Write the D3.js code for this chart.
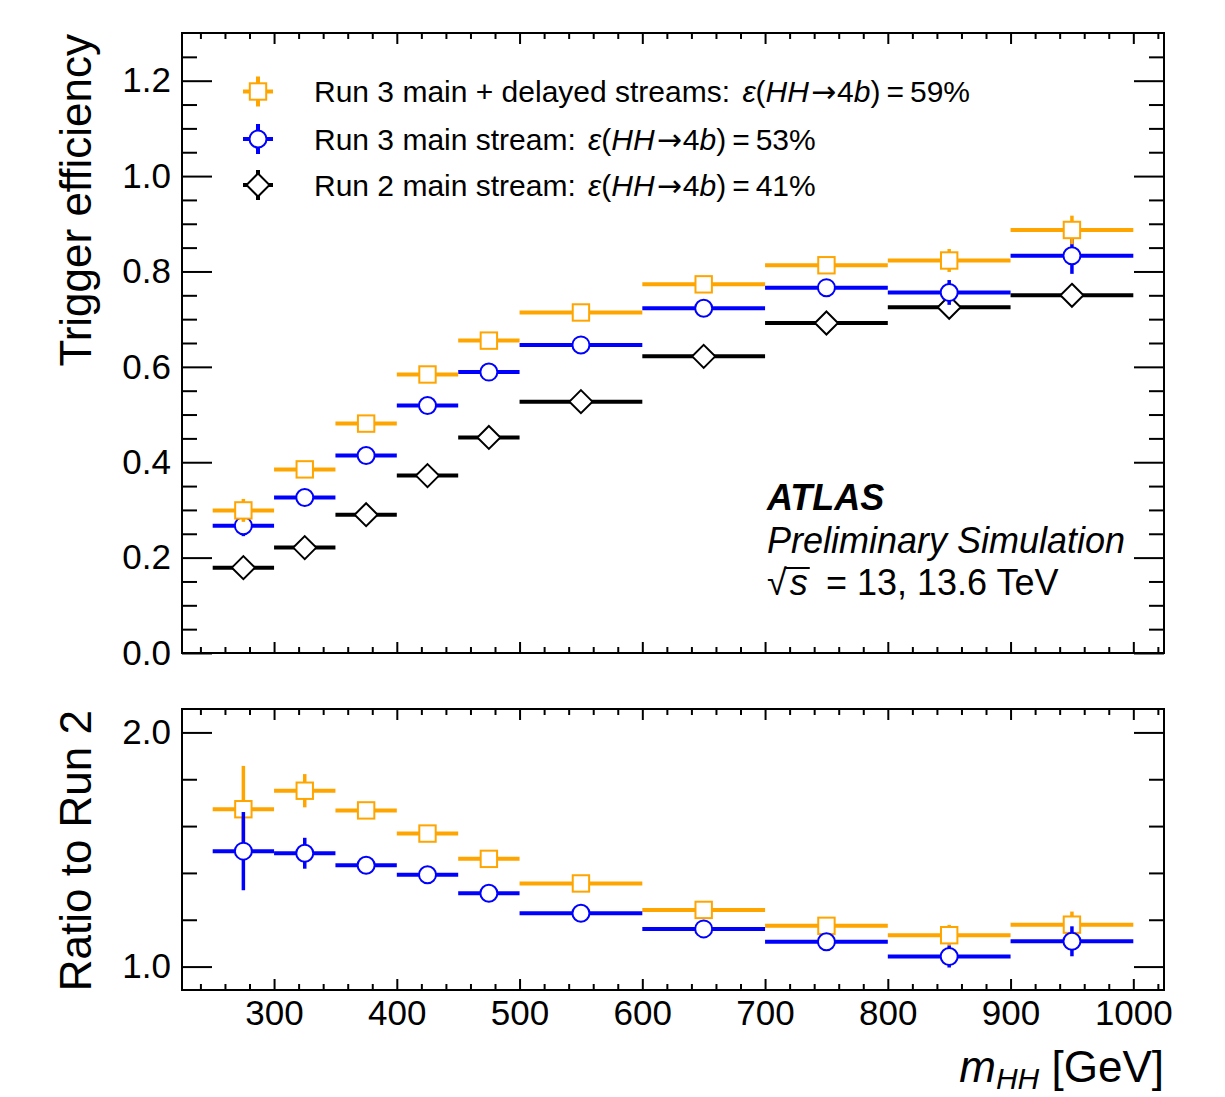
<!DOCTYPE html>
<html><head><meta charset="utf-8">
<script src="https://cdn.jsdelivr.net/npm/d3@7"></script>
<style>
body{margin:0;background:#fff}
svg{display:block}
text{font-family:"Liberation Sans",Arial,Helvetica,sans-serif;fill:#000}
</style>
</head><body>
<svg id="c" width="1225" height="1097"></svg>
<script>
// ---------------- data ----------------
const binEdges = [250, 300, 350, 400, 450, 500, 600, 700, 800, 900, 1000];

const effRun3Delayed = [0.299, 0.385, 0.481, 0.584, 0.655, 0.714, 0.773, 0.813, 0.823, 0.887];
const errRun3Delayed = [0.024, 0.012, 0.010, 0.010, 0.010, 0.008, 0.010, 0.012, 0.024, 0.030];
const effRun3Main    = [0.267, 0.326, 0.414, 0.519, 0.589, 0.646, 0.723, 0.766, 0.756, 0.833];
const errRun3Main    = [0.022, 0.012, 0.010, 0.010, 0.010, 0.008, 0.010, 0.012, 0.026, 0.038];
const effRun2Main    = [0.179, 0.221, 0.290, 0.372, 0.452, 0.527, 0.622, 0.692, 0.725, 0.750];
const errRun2Main    = [0.010, 0.010, 0.010, 0.010, 0.010, 0.008, 0.010, 0.012, 0.015, 0.015];

const ratioRun3Delayed    = [1.672, 1.751, 1.667, 1.568, 1.460, 1.355, 1.242, 1.174, 1.134, 1.179];
const ratioErrRun3Delayed = [0.185, 0.071, 0.030, 0.025, 0.025, 0.020, 0.025, 0.030, 0.044, 0.056];
const ratioRun3Main       = [1.493, 1.484, 1.433, 1.392, 1.313, 1.228, 1.161, 1.106, 1.043, 1.108];
const ratioErrRun3Main    = [0.167, 0.066, 0.030, 0.025, 0.025, 0.020, 0.025, 0.030, 0.047, 0.064];

const xMajorTicks = [300, 400, 500, 600, 700, 800, 900, 1000];
const xMinorTicks = [240, 260, 280, 320, 340, 360, 380, 420, 440, 460, 480, 520, 540, 560, 580,
  620, 640, 660, 680, 720, 740, 760, 780, 820, 840, 860, 880, 920, 940, 960, 980, 1020];
const yTopMajorTicks = [0.0, 0.2, 0.4, 0.6, 0.8, 1.0, 1.2];
const yTopMinorTicks = [0.05, 0.1, 0.15, 0.25, 0.3, 0.35, 0.45, 0.5, 0.55, 0.65, 0.7, 0.75,
  0.85, 0.9, 0.95, 1.05, 1.1, 1.15, 1.25];
const yBotMajorTicks = [1.0, 2.0];
const yBotMinorTicks = [1.2, 1.4, 1.6, 1.8];

const legendLabels = [
  {name: "Run 3 main + delayed streams: ", value: "59%"},
  {name: "Run 3 main stream: ", value: "53%"},
  {name: "Run 2 main stream: ", value: "41%"}
];

// ---------------- layout ----------------
const svg = d3.select("#c");
svg.append("rect").attr("width", 1225).attr("height", 1097).attr("fill", "#fff");
const L = 182, R = 1164;
const topT = 33, topB = 653, botT = 709, botB = 990;
const ORANGE = "#ffa500", BLUE = "#0000ff", BLACK = "#000000";

const x = d3.scaleLinear().domain([225, 1025]).range([L, R]);
const yTop = d3.scaleLinear().domain([0, 1.3]).range([topB, topT]);
const yBot = d3.scaleLinear().domain([0.9, 2.1]).range([botB, botT]);

function styleAxis(sel) {
  sel.select(".domain").remove();
  sel.selectAll(".tick line").attr("stroke", "#000").attr("stroke-width", 2);
  sel.selectAll(".tick text").attr("font-size", 35).attr("font-family", "Liberation Sans, Arial, sans-serif").attr("fill", "#000");
}

function drawFrame(y, yT, yB, yMaj, yMin, xLabels) {
  const g = svg.append("g");
  g.append("g").attr("transform", `translate(${L},0)`)
    .call(d3.axisLeft(y).tickValues(yMaj).tickSizeInner(-30).tickSizeOuter(0).tickPadding(11).tickFormat(d3.format(".1f")))
    .call(styleAxis);
  g.append("g").attr("transform", `translate(${L},0)`)
    .call(d3.axisLeft(y).tickValues(yMin).tickSizeInner(-15).tickSizeOuter(0).tickFormat(""))
    .call(styleAxis);
  g.append("g").attr("transform", `translate(${R},0)`)
    .call(d3.axisRight(y).tickValues(yMaj).tickSizeInner(-30).tickSizeOuter(0).tickFormat(""))
    .call(styleAxis);
  g.append("g").attr("transform", `translate(${R},0)`)
    .call(d3.axisRight(y).tickValues(yMin).tickSizeInner(-15).tickSizeOuter(0).tickFormat(""))
    .call(styleAxis);
  g.append("g").attr("transform", `translate(0,${yT})`)
    .call(d3.axisTop(x).tickValues(xMajorTicks).tickSizeInner(-11).tickSizeOuter(0).tickFormat(""))
    .call(styleAxis);
  g.append("g").attr("transform", `translate(0,${yT})`)
    .call(d3.axisTop(x).tickValues(xMinorTicks).tickSizeInner(-6).tickSizeOuter(0).tickFormat(""))
    .call(styleAxis);
  g.append("g").attr("transform", `translate(0,${yB})`)
    .call(d3.axisBottom(x).tickValues(xMajorTicks).tickSizeInner(-11).tickSizeOuter(0).tickPadding(10)
      .tickFormat(xLabels ? d3.format("d") : ""))
    .call(styleAxis);
  g.append("g").attr("transform", `translate(0,${yB})`)
    .call(d3.axisBottom(x).tickValues(xMinorTicks).tickSizeInner(-6).tickSizeOuter(0).tickFormat(""))
    .call(styleAxis);
  g.append("rect").attr("x", L).attr("y", yT).attr("width", R - L).attr("height", yB - yT)
    .attr("fill", "none").attr("stroke", "#000").attr("stroke-width", 2);
}

function marker(g, type, cx, cy, color) {
  if (type === "square") {
    g.append("rect").attr("x", cx - 8.2).attr("y", cy - 8.2).attr("width", 16.4).attr("height", 16.4)
      .attr("fill", "#fff").attr("stroke", color).attr("stroke-width", 2);
  } else if (type === "circle") {
    g.append("circle").attr("cx", cx).attr("cy", cy).attr("r", 8.5)
      .attr("fill", "#fff").attr("stroke", color).attr("stroke-width", 2);
  } else {
    const h = 11.5;
    g.append("path").attr("d", `M${cx},${cy - h}L${cx + h},${cy}L${cx},${cy + h}L${cx - h},${cy}Z`)
      .attr("fill", "#fff").attr("stroke", color).attr("stroke-width", 2);
  }
}

function drawSeries(y, vals, errs, color, type) {
  const g = svg.append("g");
  vals.forEach((v, i) => {
    const x0 = x(binEdges[i]), x1 = x(binEdges[i + 1]), xc = x((binEdges[i] + binEdges[i + 1]) / 2);
    g.append("line").attr("x1", x0).attr("x2", x1).attr("y1", y(v)).attr("y2", y(v))
      .attr("stroke", color).attr("stroke-width", 4);
    g.append("line").attr("x1", xc).attr("x2", xc).attr("y1", y(v - errs[i])).attr("y2", y(v + errs[i]))
      .attr("stroke", color).attr("stroke-width", 3.5);
    marker(g, type, xc, y(v), color);
  });
}

// ---------------- top panel ----------------
drawFrame(yTop, topT, topB, yTopMajorTicks, yTopMinorTicks, false);
drawSeries(yTop, effRun2Main, errRun2Main, BLACK, "diamond");
drawSeries(yTop, effRun3Main, errRun3Main, BLUE, "circle");
drawSeries(yTop, effRun3Delayed, errRun3Delayed, ORANGE, "square");

// ---------------- bottom panel ----------------
drawFrame(yBot, botT, botB, yBotMajorTicks, yBotMinorTicks, true);
drawSeries(yBot, ratioRun3Delayed, ratioErrRun3Delayed, ORANGE, "square");
drawSeries(yBot, ratioRun3Main, ratioErrRun3Main, BLUE, "circle");

// ---------------- legend ----------------
const legTypes = [["square", ORANGE], ["circle", BLUE], ["diamond", BLACK]];
const legY = [91.5, 139, 185];
legendLabels.forEach((d, i) => {
  const g = svg.append("g");
  const cx = 258, cy = legY[i], col = legTypes[i][1];
  g.append("line").attr("x1", cx - 15).attr("x2", cx + 15).attr("y1", cy).attr("y2", cy).attr("stroke", col).attr("stroke-width", 4);
  g.append("line").attr("x1", cx).attr("x2", cx).attr("y1", cy - 15).attr("y2", cy + 15).attr("stroke", col).attr("stroke-width", 4);
  marker(g, legTypes[i][0], cx, cy, col);
  const t = g.append("text").attr("x", 314).attr("y", cy + 10.5).attr("font-size", 30);
  t.append("tspan").text(d.name);
  t.append("tspan").attr("dx", 4).attr("font-style", "italic").text("ε");
  t.append("tspan").text("(");
  t.append("tspan").attr("font-style", "italic").text("HH");
  t.append("tspan").attr("dx", 2).attr("font-family", "DejaVu Sans").attr("font-size", 30).text("→");
  t.append("tspan").attr("dx", 1).text("4");
  t.append("tspan").attr("font-style", "italic").text("b");
  t.append("tspan").text(")\u2009=\u2009" + d.value);
});

// ---------------- ATLAS label ----------------
svg.append("text").attr("x", 767).attr("y", 510).attr("font-size", 36)
  .attr("font-weight", "bold").attr("font-style", "italic").text("ATLAS");
svg.append("text").attr("x", 767).attr("y", 553).attr("font-size", 36)
  .attr("font-style", "italic").text("Preliminary Simulation");
const sq = svg.append("text").attr("x", 767).attr("y", 595).attr("font-size", 36);
const sRad = sq.append("tspan").text("√");
const sS = sq.append("tspan").attr("dx", 3).attr("font-style", "italic").text("s");
sq.append("tspan").attr("x", 826).text("= 13, 13.6 TeV");
const radW = sRad.node().getComputedTextLength();
const sW = sS.node().getComputedTextLength();
svg.append("line").attr("x1", 767 + radW - 1).attr("x2", 767 + radW + sW + 5)
  .attr("y1", 568).attr("y2", 568).attr("stroke", "#000").attr("stroke-width", 2);

// ---------------- axis titles ----------------
svg.append("text").attr("transform", `translate(91,${topT + 1}) rotate(-90)`)
  .attr("text-anchor", "end").attr("font-size", 44).text("Trigger efficiency");
svg.append("text").attr("transform", `translate(91,${botT + 1}) rotate(-90)`)
  .attr("text-anchor", "end").attr("font-size", 44).text("Ratio to Run 2");
const xt = svg.append("text").attr("x", R).attr("y", 1082).attr("text-anchor", "end").attr("font-size", 44);
xt.append("tspan").attr("font-style", "italic").text("m");
xt.append("tspan").attr("font-style", "italic").attr("font-size", 30).attr("dy", 7).text("HH");
xt.append("tspan").attr("dy", -7).text(" [GeV]");
</script>
</body></html>
